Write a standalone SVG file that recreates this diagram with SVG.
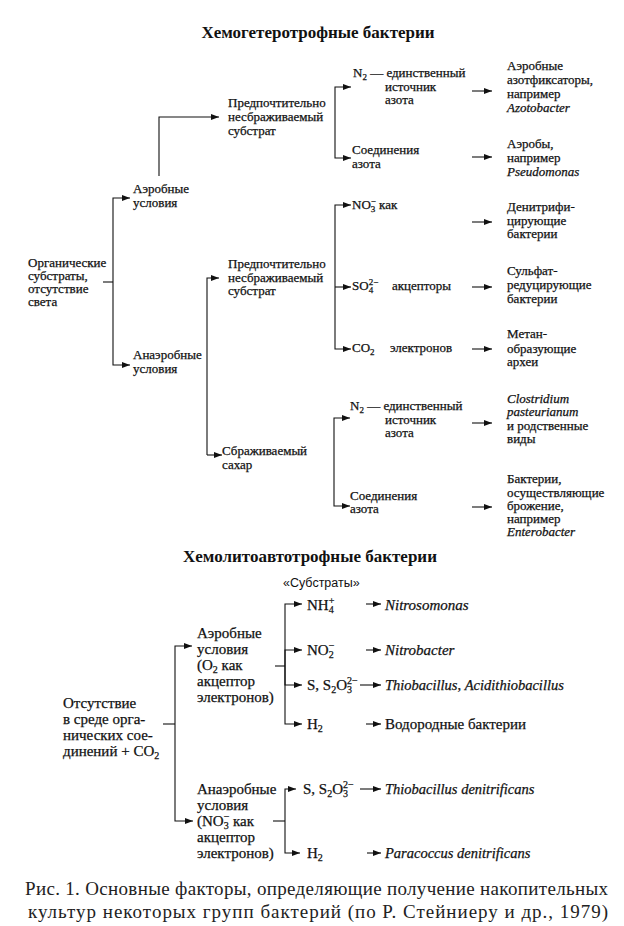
<svg xmlns="http://www.w3.org/2000/svg" width="624" height="926" viewBox="0 0 624 926" font-family="'Liberation Serif', 'Times New Roman', Tinos, 'DejaVu Serif', 'Noto Serif', serif">
<style>
text{font-family:'Liberation Serif','Times New Roman',Tinos,'DejaVu Serif','Noto Serif',serif;fill:#111}
.t{font-size:13px}
.b{font-size:15px}
.t text,.b text,text.b{stroke:#111;stroke-width:0.25}
.h{font-size:17px;font-weight:bold}
.i{font-style:italic}
.cap{font-size:19px;fill:#222}
.ln{fill:none;stroke:#111;stroke-width:1.1}
.ar{fill:none;stroke:#111;stroke-width:1.1;marker-end:url(#ah)}
</style>
<defs>
<marker id="ah" viewBox="0 0 8 6" refX="8" refY="3" markerWidth="8" markerHeight="6" markerUnits="userSpaceOnUse" orient="auto">
<path d="M0,0 L8,3 L0,6 z" fill="#111"/>
</marker>
</defs>
<rect width="624" height="926" fill="#fff"/>

<g id="connectors">
<path class="ln" d="M103,282 H113"/>
<path class="ar" d="M113,282 V198 H130"/>
<path class="ar" d="M113,282 V365 H130"/>
<path class="ar" d="M159,176 V117 H219"/>
<path class="ar" d="M207,455 V278 H219"/>
<path class="ar" d="M207,455 H222"/>
<path class="ar" d="M335,120 V87 H351"/>
<path class="ar" d="M335,120 V158 H351"/>
<path class="ar" d="M335,287 V205 H351"/>
<path class="ar" d="M335,287 H351"/>
<path class="ar" d="M335,287 V349 H351"/>
<path class="ar" d="M334,460 V418 H350"/>
<path class="ar" d="M334,460 V506 H350"/>
<path class="ar" d="M472,91 H492"/>
<path class="ar" d="M472,157 H492"/>
<path class="ar" d="M472,222 H492"/>
<path class="ar" d="M472,287 H492"/>
<path class="ar" d="M472,349 H492"/>
<path class="ar" d="M472,423 H492"/>
<path class="ar" d="M472,507 H492"/>
<path class="ln" d="M163,724 H175"/>
<path class="ar" d="M175,724 V646 H192"/>
<path class="ar" d="M175,724 V821 H193"/>
<path class="ln" d="M275,666 H285"/>
<path class="ar" d="M285,666 V604 H302"/>
<path class="ar" d="M285,666 V650 H302"/>
<path class="ar" d="M285,666 V685 H302"/>
<path class="ar" d="M285,666 V724 H302"/>
<path class="ln" d="M273,821 H285"/>
<path class="ar" d="M285,821 V789 H296"/>
<path class="ar" d="M285,821 V853 H300"/>
<path class="ar" d="M366,604 H381"/>
<path class="ar" d="M366,650 H381"/>
<path class="ar" d="M360,685 H381"/>
<path class="ar" d="M366,724 H381"/>
<path class="ar" d="M360,789 H381"/>
<path class="ar" d="M367,853 H381"/>
</g>

<g id="title1"><text class="h" x="318" y="38" text-anchor="middle">Хемогетеротрофные бактерии</text></g>

<g id="root1" class="t">
<text x="28" y="267">Органические</text>
<text x="28" y="280">субстраты,</text>
<text x="28" y="293">отсутствие</text>
<text x="28" y="306">света</text>
</g>
<g id="aerobic1" class="t">
<text x="133" y="193">Аэробные</text>
<text x="133" y="207">условия</text>
</g>
<g id="anaerobic1" class="t">
<text x="133" y="359">Анаэробные</text>
<text x="133" y="373">условия</text>
</g>
<g id="nonferm1" class="t">
<text x="228" y="107">Предпочтительно</text>
<text x="228" y="121">несбраживаемый</text>
<text x="228" y="135">субстрат</text>
</g>
<g id="nonferm2" class="t">
<text x="228" y="268">Предпочтительно</text>
<text x="228" y="282">несбраживаемый</text>
<text x="228" y="295">субстрат</text>
</g>
<g id="ferm" class="t">
<text x="222" y="455">Сбраживаемый</text>
<text x="222" y="469">сахар</text>
</g>

<g id="n2a" class="t">
<text x="353" y="77">N<tspan font-size="9" baseline-shift="-3">2</tspan> — единственный</text>
<text x="385" y="91">источник</text>
<text x="385" y="104">азота</text>
</g>
<g id="nca" class="t">
<text x="352" y="154">Соединения</text>
<text x="352" y="168">азота</text>
</g>
<g id="no3" class="t"><text x="352" y="209">NO<tspan font-size="9" baseline-shift="-3">3</tspan><tspan font-size="9" baseline-shift="5" dx="-4.5">−</tspan> как</text></g>
<g id="so4" class="t"><text x="352" y="290">SO<tspan font-size="9" baseline-shift="-3">4</tspan><tspan font-size="9" baseline-shift="5" dx="-4.5">2−</tspan></text><text x="392" y="290">акцепторы</text></g>
<g id="co2" class="t"><text x="352" y="352">CO<tspan font-size="9" baseline-shift="-3">2</tspan></text><text x="390" y="352">электронов</text></g>
<g id="n2b" class="t">
<text x="350" y="410">N<tspan font-size="9" baseline-shift="-3">2</tspan> — единственный</text>
<text x="385" y="424">источник</text>
<text x="385" y="437">азота</text>
</g>
<g id="ncb" class="t">
<text x="350" y="500">Соединения</text>
<text x="350" y="513">азота</text>
</g>

<g id="r1" class="t">
<text x="507" y="70">Аэробные</text>
<text x="507" y="84">азотфиксаторы,</text>
<text x="507" y="98">например</text>
<text x="507" y="112" class="t i">Azotobacter</text>
</g>
<g id="r2" class="t">
<text x="507" y="148">Аэробы,</text>
<text x="507" y="162">например</text>
<text x="507" y="176" class="t i">Pseudomonas</text>
</g>
<g id="r3" class="t">
<text x="507" y="211">Денитрифи-</text>
<text x="507" y="225">цирующие</text>
<text x="507" y="238">бактерии</text>
</g>
<g id="r4" class="t">
<text x="507" y="275">Сульфат-</text>
<text x="507" y="289">редуцирующие</text>
<text x="507" y="303">бактерии</text>
</g>
<g id="r5" class="t">
<text x="507" y="338">Метан-</text>
<text x="507" y="353">образующие</text>
<text x="507" y="366">археи</text>
</g>
<g id="r6" class="t">
<text x="507" y="403" class="t i">Clostridium</text>
<text x="507" y="416" class="t i">pasteurianum</text>
<text x="507" y="430">и родственные</text>
<text x="507" y="443">виды</text>
</g>
<g id="r7" class="t">
<text x="507" y="483">Бактерии,</text>
<text x="507" y="497">осуществляющие</text>
<text x="507" y="510">брожение,</text>
<text x="507" y="523">например</text>
<text x="507" y="536" class="t i">Enterobacter</text>
</g>

<g id="title2"><text class="h" x="310" y="562" text-anchor="middle">Хемолитоавтотрофные бактерии</text></g>
<g id="substrates-label"><text x="283" y="587" style="font-family:'Liberation Sans',Arial,sans-serif;font-size:12.5px">«Субстраты»</text></g>

<g id="root2" class="b">
<text x="63" y="708">Отсутствие</text>
<text x="63" y="724">в среде орга-</text>
<text x="63" y="740">нических сое-</text>
<text x="63" y="756">динений + CO<tspan font-size="10" baseline-shift="-3">2</tspan></text>
</g>
<g id="aerobic2" class="b">
<text x="197" y="638">Аэробные</text>
<text x="197" y="654">условия</text>
<text x="197" y="670">(O<tspan font-size="10" baseline-shift="-3">2</tspan> как</text>
<text x="197" y="686">акцептор</text>
<text x="197" y="702">электронов)</text>
</g>
<g id="anaerobic2" class="b">
<text x="197" y="794">Анаэробные</text>
<text x="197" y="810">условия</text>
<text x="197" y="826">(NO<tspan font-size="10" baseline-shift="-3">3</tspan><tspan font-size="10" baseline-shift="6" dx="-5">−</tspan>  как</text>
<text x="197" y="842">акцептор</text>
<text x="197" y="858">электронов)</text>
</g>

<g id="nh4" class="b"><text x="307" y="610">NH<tspan font-size="10" baseline-shift="-3">4</tspan><tspan font-size="10" baseline-shift="6" dx="-5">+</tspan></text></g>
<g id="no2" class="b"><text x="307" y="655">NO<tspan font-size="10" baseline-shift="-3">2</tspan><tspan font-size="10" baseline-shift="6" dx="-5">−</tspan></text></g>
<g id="s1" class="b"><text x="307" y="690">S,  S<tspan font-size="10" baseline-shift="-3">2</tspan>O<tspan font-size="10" baseline-shift="-3">3</tspan><tspan font-size="10" baseline-shift="6" dx="-5">2−</tspan></text></g>
<g id="h2a" class="b"><text x="307" y="729">H<tspan font-size="10" baseline-shift="-3">2</tspan></text></g>
<g id="s2" class="b"><text x="303" y="794">S,  S<tspan font-size="10" baseline-shift="-3">2</tspan>O<tspan font-size="10" baseline-shift="-3">3</tspan><tspan font-size="10" baseline-shift="6" dx="-5">2−</tspan></text></g>
<g id="h2b" class="b"><text x="307" y="858">H<tspan font-size="10" baseline-shift="-3">2</tspan></text></g>

<g id="nitrosomonas"><text class="b i" x="385" y="610" font-size="14.5">Nitrosomonas</text></g>
<g id="nitrobacter"><text class="b i" x="385" y="655" font-size="14.5">Nitrobacter</text></g>
<g id="thiobacillus"><text class="b" x="385" y="690" style="font-size:14.5px"><tspan class="i">Thiobacillus</tspan>, <tspan class="i">Acidithiobacillus</tspan></text></g>
<g id="hydrogen"><text class="b" x="385" y="729">Водородные бактерии</text></g>
<g id="tdenitr"><text class="b i" x="385" y="794" style="font-size:14.5px">Thiobacillus denitrificans</text></g>
<g id="pdenitr"><text class="b i" x="385" y="858" style="font-size:14.5px">Paracoccus denitrificans</text></g>

<g id="caption">
<text class="cap" x="25" y="895" textLength="583" lengthAdjust="spacing">Рис. 1. Основные факторы, определяющие получение накопительных</text>
<text class="cap" x="28" y="918" textLength="580" lengthAdjust="spacing">культур  некоторых  групп  бактерий  (по  Р. Стейниеру и др.,  1979)</text>
</g>
</svg>
